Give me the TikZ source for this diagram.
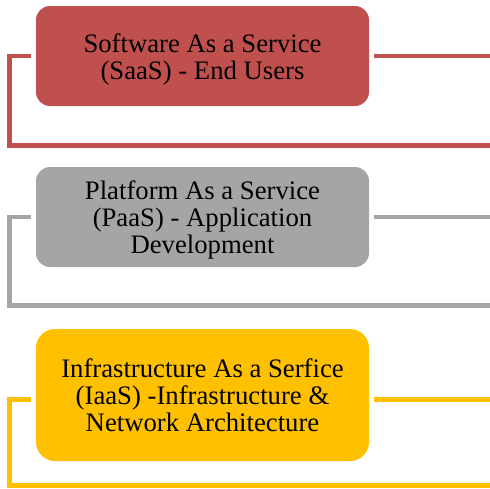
\documentclass[tikz,border=0pt]{standalone}
\usepackage{fontspec}
\setmainfont{Liberation Serif}
% strut that lowers a two-line label slightly inside its box
\newcommand{\tierlift}{\rule{0pt}{12.5pt}}
\begin{document}
\begin{tikzpicture}[x=0.5pt,y=-0.5pt,
  tier/.style={rounded corners=#1, minimum width=166.5pt, align=center,
    inner sep=0pt, text=black, font=\fontsize{13.35pt}{13.6pt}\selectfont},
  loop/.style={line width=2.2pt, line join=miter, line cap=butt, draw=#1}]
\definecolor{saasred}{HTML}{C0504D}
\definecolor{paasgray}{HTML}{A5A5A5}
\definecolor{iaasgold}{HTML}{FFC000}
\useasboundingbox (0,0) rectangle (490,488);

% tier boxes
\node[tier=7pt, fill=saasred, minimum height=50pt] (saas) at (202.5,56)
  {\tierlift Software As a Service\\(SaaS) - End Users};
\node[tier=7pt, fill=paasgray, minimum height=50pt] (paas) at (202.5,217)
  {\tierlift Platform As a Service\\(PaaS) - Application\\Development};
\node[tier=9.5pt, fill=iaasgold, minimum height=66pt] (iaas) at (202.5,395)
  {Infrastructure As a Serfice\\(IaaS) -Infrastructure \&\\Network Architecture};

% bracket loops around each tier
\begin{scope}
\clip (0,0) rectangle (490,488);
\draw[loop=saasred] ([shift={(-5,0)}]saas.west) -| (9.5,145.5) -| (492,56)
  -- ([shift={(5,0)}]saas.east);
\draw[loop=paasgray] ([shift={(-5,0)}]paas.west) -| (9.5,305.5) -| (492,217)
  -- ([shift={(5,0)}]paas.east);
\draw[loop=iaasgold] ([shift={(-5,4.5)}]iaas.west) -| (9.5,485.5) -| (492,399.5)
  -- ([shift={(5,4.5)}]iaas.east);
\end{scope}
\end{tikzpicture}
\end{document}
